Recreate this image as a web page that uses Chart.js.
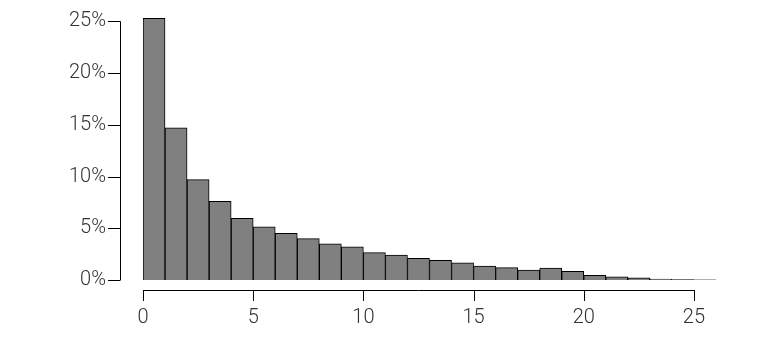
<!DOCTYPE html>
<html>
<head>
<meta charset="utf-8">
<script src="https://cdn.jsdelivr.net/npm/chart.js@4/dist/chart.umd.min.js"></script>
<style>
  html, body { margin: 0; padding: 0; background: #fff; }
  #wrap { width: 780px; height: 341px; }
</style>
</head>
<body>
<div id="wrap"><canvas id="histChart" width="780" height="341"></canvas></div>
<script>
// bin start values (each bin is 1 wide)
var binStarts = [0, 1, 2, 3, 4, 5, 6, 7, 8, 9, 10, 11, 12, 13, 14, 15, 16, 17, 18, 19, 20, 21, 22, 23, 24, 25];
// share of observations per bin, in percent
var binShares = [25.3, 14.7, 9.7, 7.6, 5.95, 5.15, 4.5, 4.0, 3.5, 3.2, 2.65, 2.4, 2.1, 1.9, 1.65, 1.35, 1.2, 0.95, 1.15, 0.85, 0.45, 0.3, 0.2, 0.1, 0.04, 0.01];
var xTicks = [0, 5, 10, 15, 20, 25];
var yTicks = [0, 5, 10, 15, 20, 25];

var tickFont = { family: "Roboto", size: 20, weight: "300" };
var inkColor = "#333333";

// keep the label padding out of the layout, so the plot area stays put
function clearPadding(scale) {
  scale.paddingLeft = 0;
  scale.paddingRight = 0;
  scale.paddingTop = 0;
  scale.paddingBottom = 0;
}

// axes drawn detached from the plot area, like base R
var detachedAxes = {
  id: "detachedAxes",
  afterDraw: function(chart) {
    var ctx = chart.ctx;
    var xs = chart.scales.x, ys = chart.scales.y;
    var ax = chart.chartArea.left - 23;
    var ay = chart.chartArea.bottom + 10;
    ctx.save();
    ctx.strokeStyle = "#000";
    ctx.lineWidth = 1;
    ctx.beginPath();
    // y axis
    ctx.moveTo(ax + 0.5, ys.getPixelForValue(yTicks[0]));
    ctx.lineTo(ax + 0.5, ys.getPixelForValue(yTicks[yTicks.length - 1]));
    yTicks.forEach(function(v) {
      var py = Math.round(ys.getPixelForValue(v)) + 0.5;
      ctx.moveTo(ax - 12, py);
      ctx.lineTo(ax + 0.5, py);
    });
    // x axis
    ctx.moveTo(xs.getPixelForValue(xTicks[0]), ay + 0.5);
    ctx.lineTo(xs.getPixelForValue(xTicks[xTicks.length - 1]), ay + 0.5);
    xTicks.forEach(function(v) {
      var px = Math.round(xs.getPixelForValue(v)) + 0.5;
      ctx.moveTo(px, ay);
      ctx.lineTo(px, ay + 11);
    });
    ctx.stroke();
    ctx.restore();
  }
};

var ctx = document.getElementById("histChart").getContext("2d");
var myChart = new Chart(ctx, {
  type: "bar",
  data: {
    datasets: [{
      data: binStarts.map(function(b, i) { return { x: b + 0.5, y: binShares[i] }; }),
      backgroundColor: "#808080",
      borderColor: "#000000",
      borderWidth: 1,
      barPercentage: 1.0,
      categoryPercentage: 1.0
    }]
  },
  options: {
    responsive: false,
    animation: false,
    layout: { padding: { top: 11, right: 64, left: 0, bottom: 0 } },
    plugins: {
      legend: { display: false },
      tooltip: { enabled: false }
    },
    scales: {
      x: {
        type: "linear",
        offset: false,
        min: 0,
        max: 26,
        afterBuildTicks: function(scale) {
          scale.ticks = xTicks.map(function(v) { return { value: v }; });
        },
        afterFit: function(scale) { scale.height = 61; clearPadding(scale); },
        grid: { display: false, drawTicks: false, offset: false },
        border: { display: false },
        ticks: { padding: 26, color: inkColor, font: tickFont, maxRotation: 0, autoSkip: false }
      },
      y: {
        min: 0,
        max: 26,
        afterBuildTicks: function(scale) {
          scale.ticks = yTicks.map(function(v) { return { value: v }; });
        },
        afterFit: function(scale) { scale.width = 143; clearPadding(scale); },
        grid: { display: false, drawTicks: false },
        border: { display: false },
        ticks: {
          padding: 37,
          color: inkColor,
          font: tickFont,
          callback: function(v) { return v + "%"; }
        }
      }
    }
  },
  plugins: [detachedAxes]
});
</script>
</body>
</html>
